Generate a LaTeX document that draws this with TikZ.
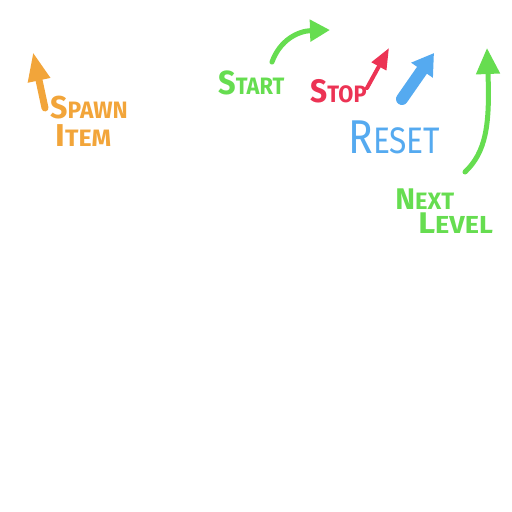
\documentclass[tikz,border=0pt]{standalone}
\usepackage{fontspec}
\setmainfont{Fira Sans}
\usetikzlibrary{arrows.meta}

\definecolor{spawnorange}{HTML}{F2A53A}
\definecolor{gogreen}{HTML}{66DD50}
\definecolor{stopred}{HTML}{EC3354}
\definecolor{resetblue}{HTML}{55AAF0}

% first letter large, rest as small capitals, squeezed sideways
\newcommand{\capword}[5][1]{\scalebox{#1}[1]{{\fontsize{#2}{#2}\selectfont #4}{\fontsize{#3}{#3}\selectfont #5}}}

\tikzset{
	word/.style={inner sep=0pt, anchor=base west, text depth=0pt, font=\bfseries},
	marker/.style={line cap=round, line width=#1},
}

\begin{document}
\begin{tikzpicture}[x=0.02cm, y=-0.02cm]
	\useasboundingbox (0,0) rectangle (512,512);

	% labels
	\node[word, text=spawnorange] (spawn) at (50,118) {\capword[0.96]{18pt}{13.5pt}{S}{PAWN}};
	\node[word, text=spawnorange] (item) at (55,146) {\capword[1.05]{18pt}{13.5pt}{I}{TEM}};
	\node[word, text=gogreen] (start) at (218,94) {\capword[0.92]{19pt}{13.5pt}{S}{TART}};
	\node[word, text=stopred] (stop) at (310,102) {\capword[0.92]{18.5pt}{13.5pt}{S}{TOP}};
	\node[word, text=resetblue, font=\mdseries] (reset) at (348,153) {\capword[0.86]{27pt}{21pt}{R}{ESET}};
	\node[word, text=gogreen] (next) at (395,209) {\capword{17pt}{13.5pt}{N}{EXT}};
	\node[word, text=gogreen] (level) at (418,233) {\capword[1.1]{17pt}{14pt}{L}{EVEL}};

	% arrow ends
	\coordinate (spawn tail) at (45,108);
	\coordinate (spawn tip) at (33,52);
	\coordinate (start tail) at (272,62);
	\coordinate (start tip) at (330,30);
	\coordinate (stop tail) at (367,88);
	\coordinate (stop tip) at (389,48);
	\coordinate (reset tail) at (402,99);
	\coordinate (reset tip) at (434,53);
	\coordinate (next tail) at (465,172);
	\coordinate (next tip) at (487,48);

	% arrows
	\draw[marker=0.14cm, spawnorange, -{Triangle[length=0.58cm, width=0.42cm]}]
		(spawn tail) -- (spawn tip);
	\draw[marker=0.1cm, gogreen, -{Triangle[length=0.4cm, width=0.42cm]}]
		(start tail) .. controls (280,40) and (298,31) .. (start tip);
	\draw[marker=0.08cm, stopred, -{Triangle[length=0.42cm, width=0.32cm]}]
		(stop tail) -- (stop tip);
	\draw[marker=0.24cm, resetblue, -{Triangle[length=0.42cm, width=0.5cm]}]
		(reset tail) -- (reset tip);
	\draw[marker=0.1cm, gogreen, -{Triangle[length=0.52cm, width=0.46cm]}]
		(next tail) .. controls (486,152) and (490,125) .. (next tip);
\end{tikzpicture}
\end{document}
